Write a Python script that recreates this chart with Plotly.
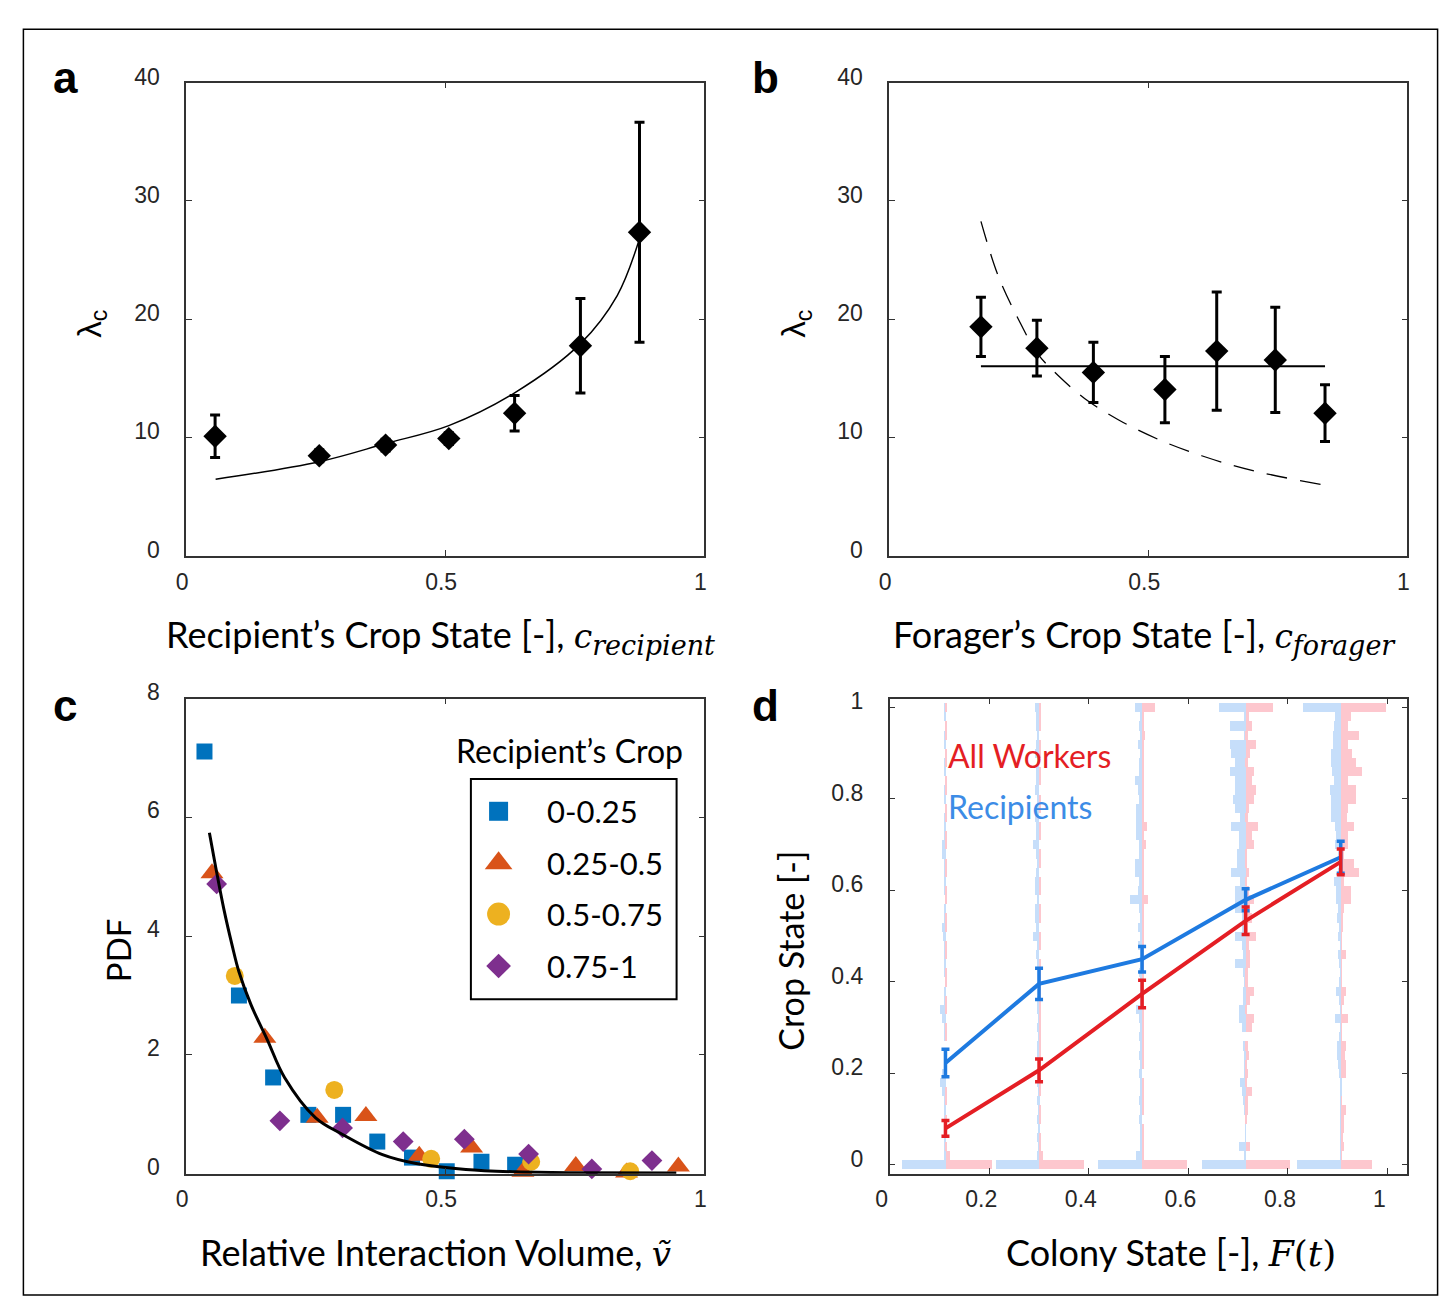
import plotly.graph_objects as go
import numpy as np

W, H = 1447, 1305

# ---------------- Panel a ----------------
a_x = [0.056, 0.257, 0.385, 0.507, 0.634, 0.761, 0.875]
a_y = [10.1, 8.45, 9.35, 9.9, 12.05, 17.75, 27.35]
a_err = [1.8, 0.5, 0.5, 0.5, 1.5, 4.0, 9.3]
a_fit_x = [0.057, 0.257, 0.385, 0.507, 0.634, 0.761, 0.832, 0.875]
a_fit_y = [6.46, 7.95, 9.48, 11.0, 13.77, 17.93, 22.0, 26.8]

# ---------------- Panel b ----------------
b_x = [0.177, 0.285, 0.394, 0.532, 0.632, 0.745, 0.841]
b_y = [19.35, 17.55, 15.5, 14.05, 17.3, 16.55, 12.05]
b_err = [2.5, 2.35, 2.55, 2.8, 5.0, 4.45, 2.4]
b_const = 16.02
b_dash_x = [0.177, 0.21, 0.248, 0.287, 0.326, 0.377, 0.442, 0.519, 0.603, 0.70, 0.841]
b_dash_y = [28.27, 23.7, 20.1, 17.05, 15.24, 13.3, 11.5, 9.84, 8.45, 7.21, 5.96]

# ---------------- Panel c ----------------
c_labels = ["0-0.25", "0.25-0.5", "0.5-0.75", "0.75-1"]
c1_x = [0.0355, 0.102, 0.168, 0.236, 0.303, 0.369, 0.436, 0.503, 0.570, 0.635]
c1_y = [7.11, 3.0, 1.62, 0.99, 0.99, 0.54, 0.27, 0.04, 0.20, 0.15]
c2_x = [0.05, 0.152, 0.253, 0.347, 0.45, 0.551, 0.65, 0.752, 0.85, 0.95]
c2_y = [5.06, 2.29, 0.94, 0.97, 0.30, 0.44, 0.03, 0.13, 0.02, 0.12]
c3_x = [0.094, 0.286, 0.473, 0.666, 0.857]
c3_y = [3.33, 1.41, 0.25, 0.20, 0.04]
c4_x = [0.059, 0.181, 0.302, 0.419, 0.537, 0.661, 0.783, 0.899]
c4_y = [4.88, 0.89, 0.77, 0.54, 0.58, 0.33, 0.08, 0.22]
c_fit_x = [0.045, 0.057, 0.073, 0.089, 0.102, 0.125, 0.157, 0.19, 0.25, 0.302,
           0.379, 0.444, 0.54, 0.637, 0.75, 0.946]
c_fit_y = [5.74, 5.17, 4.45, 3.84, 3.40, 2.85, 2.25, 1.62, 0.94, 0.66,
           0.32, 0.17, 0.07, 0.03, 0.015, 0.01]

# ---------------- Panel d ----------------
colony_x = [0.112, 0.30, 0.507, 0.715, 0.906]
rec_y = [0.222, 0.395, 0.449, 0.579, 0.672]
rec_err = [0.03, 0.034, 0.028, 0.024, 0.035]
all_y = [0.079, 0.206, 0.373, 0.533, 0.662]
all_err = [0.017, 0.025, 0.03, 0.03, 0.028]
bin_width = 0.02
bin_centers = [round(k * bin_width, 2) for k in range(51)]

# histogram bar lengths (thousandths of the x axis), bins 0..50
rec_hist = [
    [88, 3, 2, 3, 0, 3, 2, 3, 7, 11,
     8, 2, 3, 0, 3, 2, 7, 11, 3, 2,
     0, 3, 2, 3, 4, 6, 7, 3, 2, 0,
     2, 3, 2, 4, 7, 7, 3, 2, 2, 0,
     2, 2, 0, 2, 2, 0, 2, 2, 0, 2, 2],
    [88, 4, 3, 4, 3, 5, 3, 4, 3, 5,
     4, 3, 4, 5, 3, 4, 3, 5, 4, 3,
     4, 5, 5, 6, 5, 13, 6, 8, 8, 5,
     8, 8, 6, 5, 6, 13, 6, 7, 8, 6,
     5, 8, 6, 7, 5, 8, 6, 5, 7, 6, 8],
    [89, 13, 4, 5, 4, 6, 4, 6, 5, 4,
     6, 5, 6, 4, 6, 5, 6, 12, 5, 4,
     5, 6, 5, 4, 8, 5, 9, 5, 6, 24,
     8, 6, 14, 14, 6, 7, 12, 12, 12, 12,
     6, 8, 14, 6, 7, 5, 9, 5, 6, 5, 14],
    [88, 2, 14, 1, 1, 1, 2, 6, 8, 11,
     2, 2, 4, 6, 0, 8, 14, 14, 6, 6,
     4, 6, 22, 6, 8, 22, 8, 8, 22, 21,
     22, 11, 29, 18, 18, 14, 14, 29, 11, 21,
     26, 22, 22, 33, 21, 29, 33, 2, 33, 2, 55],
    [89, 1, 2, 2, 2, 2, 2, 2, 2, 3,
     4, 6, 8, 8, 4, 3, 12, 3, 4, 10,
     5, 3, 5, 6, 3, 6, 5, 8, 6, 10,
     10, 14, 6, 3, 6, 12, 10, 13, 20, 21,
     20, 23, 14, 18, 20, 21, 16, 16, 14, 13, 76],
]
all_hist = [
    [92, 8, 2, 0, 2, 2, 0, 2, 2, 0,
     2, 3, 2, 0, 2, 2, 0, 2, 2, 0,
     2, 2, 0, 2, 2, 0, 2, 2, 0, 2,
     2, 0, 2, 2, 0, 2, 2, 0, 2, 2,
     0, 2, 2, 0, 2, 2, 0, 2, 2, 0, 2],
    [90, 7, 2, 2, 0, 2, 2, 0, 2, 2,
     0, 3, 3, 3, 4, 3, 4, 3, 4, 3,
     4, 3, 2, 0, 2, 2, 0, 2, 2, 0,
     2, 2, 0, 2, 2, 0, 2, 2, 0, 2,
     2, 0, 2, 2, 0, 2, 2, 0, 2, 2, 3],
    [89, 3, 2, 3, 2, 0, 3, 2, 3, 2,
     0, 3, 2, 3, 2, 3, 3, 3, 3, 3,
     3, 3, 3, 3, 2, 3, 3, 2, 3, 11,
     4, 3, 3, 4, 3, 8, 4, 9, 3, 4,
     3, 2, 4, 3, 2, 3, 2, 6, 2, 3, 26],
    [89, 0, 8, 0, 0, 1, 4, 4, 12, 3,
     4, 3, 6, 4, 0, 12, 17, 3, 9, 17,
     4, 4, 9, 9, 6, 21, 4, 12, 9, 16,
     6, 3, 6, 3, 3, 17, 12, 24, 4, 6,
     17, 21, 12, 17, 4, 9, 21, 4, 12, 6, 54],
    [63, 2, 5, 4, 5, 7, 10, 2, 0, 0,
     10, 10, 9, 10, 2, 2, 15, 2, 6, 10,
     2, 2, 2, 10, 2, 2, 4, 4, 7, 20,
     20, 7, 37, 27, 7, 15, 15, 26, 12, 15,
     31, 31, 14, 42, 31, 22, 15, 37, 14, 20, 90],
]

# ---------------- styles ----------------
AX = '#333333'
TICKFONT = dict(family='Liberation Sans, Arial, sans-serif', size=23, color='#262626')
TXT = 'Lato, Open Sans, sans-serif'
MATH = 'DejaVu Serif'
RED = 'rgb(228,30,36)'
BLUE = 'rgb(30,122,224)'
HBLUE = 'rgb(198,222,250)'
HRED = 'rgb(253,199,206)'
MC = ['#0072BD', '#D95319', '#EDB120', '#7E2F8E']


def px2x(p):
    return p / W


def px2y(p):
    return 1 - p / H


def axis(domain, rng, tickvals, anchor, shift, standoff):
    return dict(domain=domain, range=rng, tickvals=tickvals, ticktext=[('%g' % v) for v in tickvals],
                anchor=anchor, showline=True, linecolor=AX, linewidth=1.5, mirror='ticks',
                ticks='inside', ticklen=6, tickwidth=1.2, tickcolor=AX,
                showgrid=False, zeroline=False, tickfont=TICKFONT,
                ticklabelshift=shift, ticklabelstandoff=standoff, fixedrange=True)


fig = go.Figure()

# Panel a
fig.add_trace(go.Scatter(x=a_fit_x, y=a_fit_y, mode='lines', line=dict(color='black', width=1.5, shape='spline'),
                         xaxis='x', yaxis='y', showlegend=False))
fig.add_trace(go.Scatter(x=a_x, y=a_y, mode='markers',
                         marker=dict(symbol='diamond', size=18, color='black'),
                         error_y=dict(type='data', array=a_err, color='black', thickness=3, width=5),
                         xaxis='x', yaxis='y', showlegend=False, cliponaxis=False))

# Panel b
fig.add_trace(go.Scatter(x=b_dash_x, y=b_dash_y, mode='lines',
                         line=dict(color='black', width=1.3, shape='spline', dash='21px,13px'),
                         xaxis='x2', yaxis='y2', showlegend=False))
fig.add_trace(go.Scatter(x=[b_x[0], b_x[-1]], y=[b_const, b_const], mode='lines',
                         line=dict(color='black', width=2), xaxis='x2', yaxis='y2', showlegend=False))
fig.add_trace(go.Scatter(x=b_x, y=b_y, mode='markers',
                         marker=dict(symbol='diamond', size=18, color='black'),
                         error_y=dict(type='data', array=b_err, color='black', thickness=3, width=5),
                         xaxis='x2', yaxis='y2', showlegend=False, cliponaxis=False))

# Panel c
c_series = [(c1_x, c1_y, 'square', 16), (c2_x, c2_y, 'triangle-up', 20),
            (c3_x, c3_y, 'circle', 18), (c4_x, c4_y, 'diamond', 16)]
for i, (sx, sy, sym, sz) in enumerate(c_series):
    fig.add_trace(go.Scatter(x=sx, y=sy, mode='markers', marker=dict(symbol=sym, size=sz, color=MC[i]),
                             xaxis='x3', yaxis='y3', showlegend=False, cliponaxis=False, name=c_labels[i]))
fig.add_trace(go.Scatter(x=c_fit_x, y=c_fit_y, mode='lines', line=dict(color='black', width=3, shape='spline'),
                         xaxis='x3', yaxis='y3', showlegend=False))

# Panel d histograms
for i, xc in enumerate(colony_x):
    fig.add_trace(go.Bar(y=bin_centers, x=[-v / 1000 for v in rec_hist[i]], base=xc, orientation='h',
                         width=bin_width, marker=dict(color=HBLUE, line=dict(width=0)),
                         xaxis='x4', yaxis='y4', showlegend=False))
    fig.add_trace(go.Bar(y=bin_centers, x=[v / 1000 for v in all_hist[i]], base=xc, orientation='h',
                         width=bin_width, marker=dict(color=HRED, line=dict(width=0)),
                         xaxis='x4', yaxis='y4', showlegend=False))
fig.add_trace(go.Scatter(x=colony_x, y=rec_y, mode='lines', line=dict(color=BLUE, width=4),
                         error_y=dict(type='data', array=rec_err, color=BLUE, thickness=3.5, width=4),
                         xaxis='x4', yaxis='y4', showlegend=False))
fig.add_trace(go.Scatter(x=colony_x, y=all_y, mode='lines', line=dict(color=RED, width=4),
                         error_y=dict(type='data', array=all_err, color=RED, thickness=3.5, width=4),
                         xaxis='x4', yaxis='y4', showlegend=False))

# Panel c legend glyphs (overlay axis in legend-box pixels)
leg_rows = [33, 86, 138, 191]
leg_sym = [('square', 19), ('triangle-up', 24), ('circle', 23), ('diamond', 19)]
for i, (sym, sz) in enumerate(leg_sym):
    fig.add_trace(go.Scatter(x=[28], y=[225 - leg_rows[i]], mode='markers',
                             marker=dict(symbol=sym, size=sz, color=MC[i]),
                             xaxis='x5', yaxis='y5', showlegend=False, cliponaxis=False, hoverinfo='skip'))

dom_ax = [px2x(174), px2x(698)]
dom_bx = [px2x(885), px2x(1409)]
dom_top = [px2y(547), px2y(64)]
dom_bot = [px2y(1178), px2y(693)]

fig.update_layout(
    width=W, height=H, margin=dict(l=0, r=0, t=0, b=0),
    paper_bgcolor='white', plot_bgcolor='white', barmode='overlay', bargap=0,
    showlegend=False,
    xaxis=axis(dom_ax, [0, 1], [0, 0.5, 1], 'y', -4, 5),
    yaxis=axis(dom_top, [0, 40], [0, 10, 20, 30, 40], 'x', -6, 20),
    xaxis2=axis(dom_bx, [0, 1], [0, 0.5, 1], 'y2', -4, 5),
    yaxis2=axis(dom_top, [0, 40], [0, 10, 20, 30, 40], 'x2', -6, 20),
    xaxis3=axis(dom_ax, [0, 1], [0, 0.5, 1], 'y3', -4, 4),
    yaxis3=axis(dom_bot, [0, 8], [0, 2, 4, 6, 8], 'x3', -7, 20),
    xaxis4=axis([px2x(885.5), px2x(1409)], [0, 1.04], [0, 0.2, 0.4, 0.6, 0.8, 1], 'y4', -8, 4),
    yaxis4=axis(dom_bot, [-0.02, 1.019], [0, 0.2, 0.4, 0.6, 0.8, 1], 'x4', -6, 20),
    xaxis5=dict(domain=[px2x(462), px2x(670)], range=[0, 208], anchor='y5', visible=False, fixedrange=True),
    yaxis5=dict(domain=[px2y(1000), px2y(775)], range=[0, 225], anchor='x5', visible=False, fixedrange=True),
)

shapes = [
    dict(type='rect', xref='paper', yref='paper', x0=px2x(9.5), x1=px2x(1439.5), y0=px2y(1302), y1=px2y(9.5),
         line=dict(color='black', width=1.5)),
    dict(type='rect', xref='paper', yref='paper', x0=px2x(462), x1=px2x(670), y0=px2y(1000), y1=px2y(775),
         line=dict(color='black', width=2)),
]
fig.update_layout(shapes=shapes)

ann = []


def add_text(text, x, y, size, color='black', family=TXT, xanchor='center', yanchor='middle', angle=0):
    ann.append(dict(text=text, x=px2x(x), y=px2y(y), xref='paper', yref='paper', showarrow=False,
                    xanchor=xanchor, yanchor=yanchor, textangle=angle,
                    font=dict(family=family, size=size, color=color)))


# panel letters
for letter, (lx, ly) in zip('abcd', [(52, 59), (760, 59), (52, 700), (760, 700)]):
    add_text('<b>%s</b>' % letter, lx, ly, 44, family='Liberation Sans, Arial')

math_sub = ("<span style=\"font-family:%s;font-size:33px\"><i>c<sub><span style=\"font-size:27px\">%s</span></sub></i></span>")
add_text("Recipient’s Crop State [-], " + math_sub % (MATH, 'recipient'), 431, 630, 36)
add_text("Forager’s Crop State [-], " + math_sub % (MATH, 'forager'), 1143, 630, 36)
add_text("Relative Interaction Volume, <span style=\"font-family:%s;font-size:34px\"><i>ṽ</i></span>" % MATH,
         427, 1258, 36)
add_text("Colony State [-], <span style=\"font-family:%s;font-size:36px\"><i>F</i>(<i>t</i>)</span>" % MATH,
         1170, 1258, 36)
add_text("λ<sub>c</sub>", 78, 310, 33, family='Liberation Sans, Arial', angle=-90)
add_text("λ<sub>c</sub>", 790, 310, 33, family='Liberation Sans, Arial', angle=-90)
add_text("PDF", 106, 950, 33, angle=-90)
add_text("Crop State [-]", 785, 950, 34, angle=-90)

# panel c legend text
add_text("Recipient’s Crop", 562, 746, 32)
for i, lab in enumerate(c_labels):
    add_text(lab, 537, 775 + leg_rows[i], 31, xanchor='left')

# panel d labels
add_text("All Workers", 942, 751, 32, color=RED, xanchor='left')
add_text("Recipients", 942, 803, 32, color='rgb(60,140,230)', xanchor='left')

fig.update_layout(annotations=ann)
fig.write_html("out.html",
               post_script="document.body.style.margin='0px';document.body.style.overflow='hidden';")
